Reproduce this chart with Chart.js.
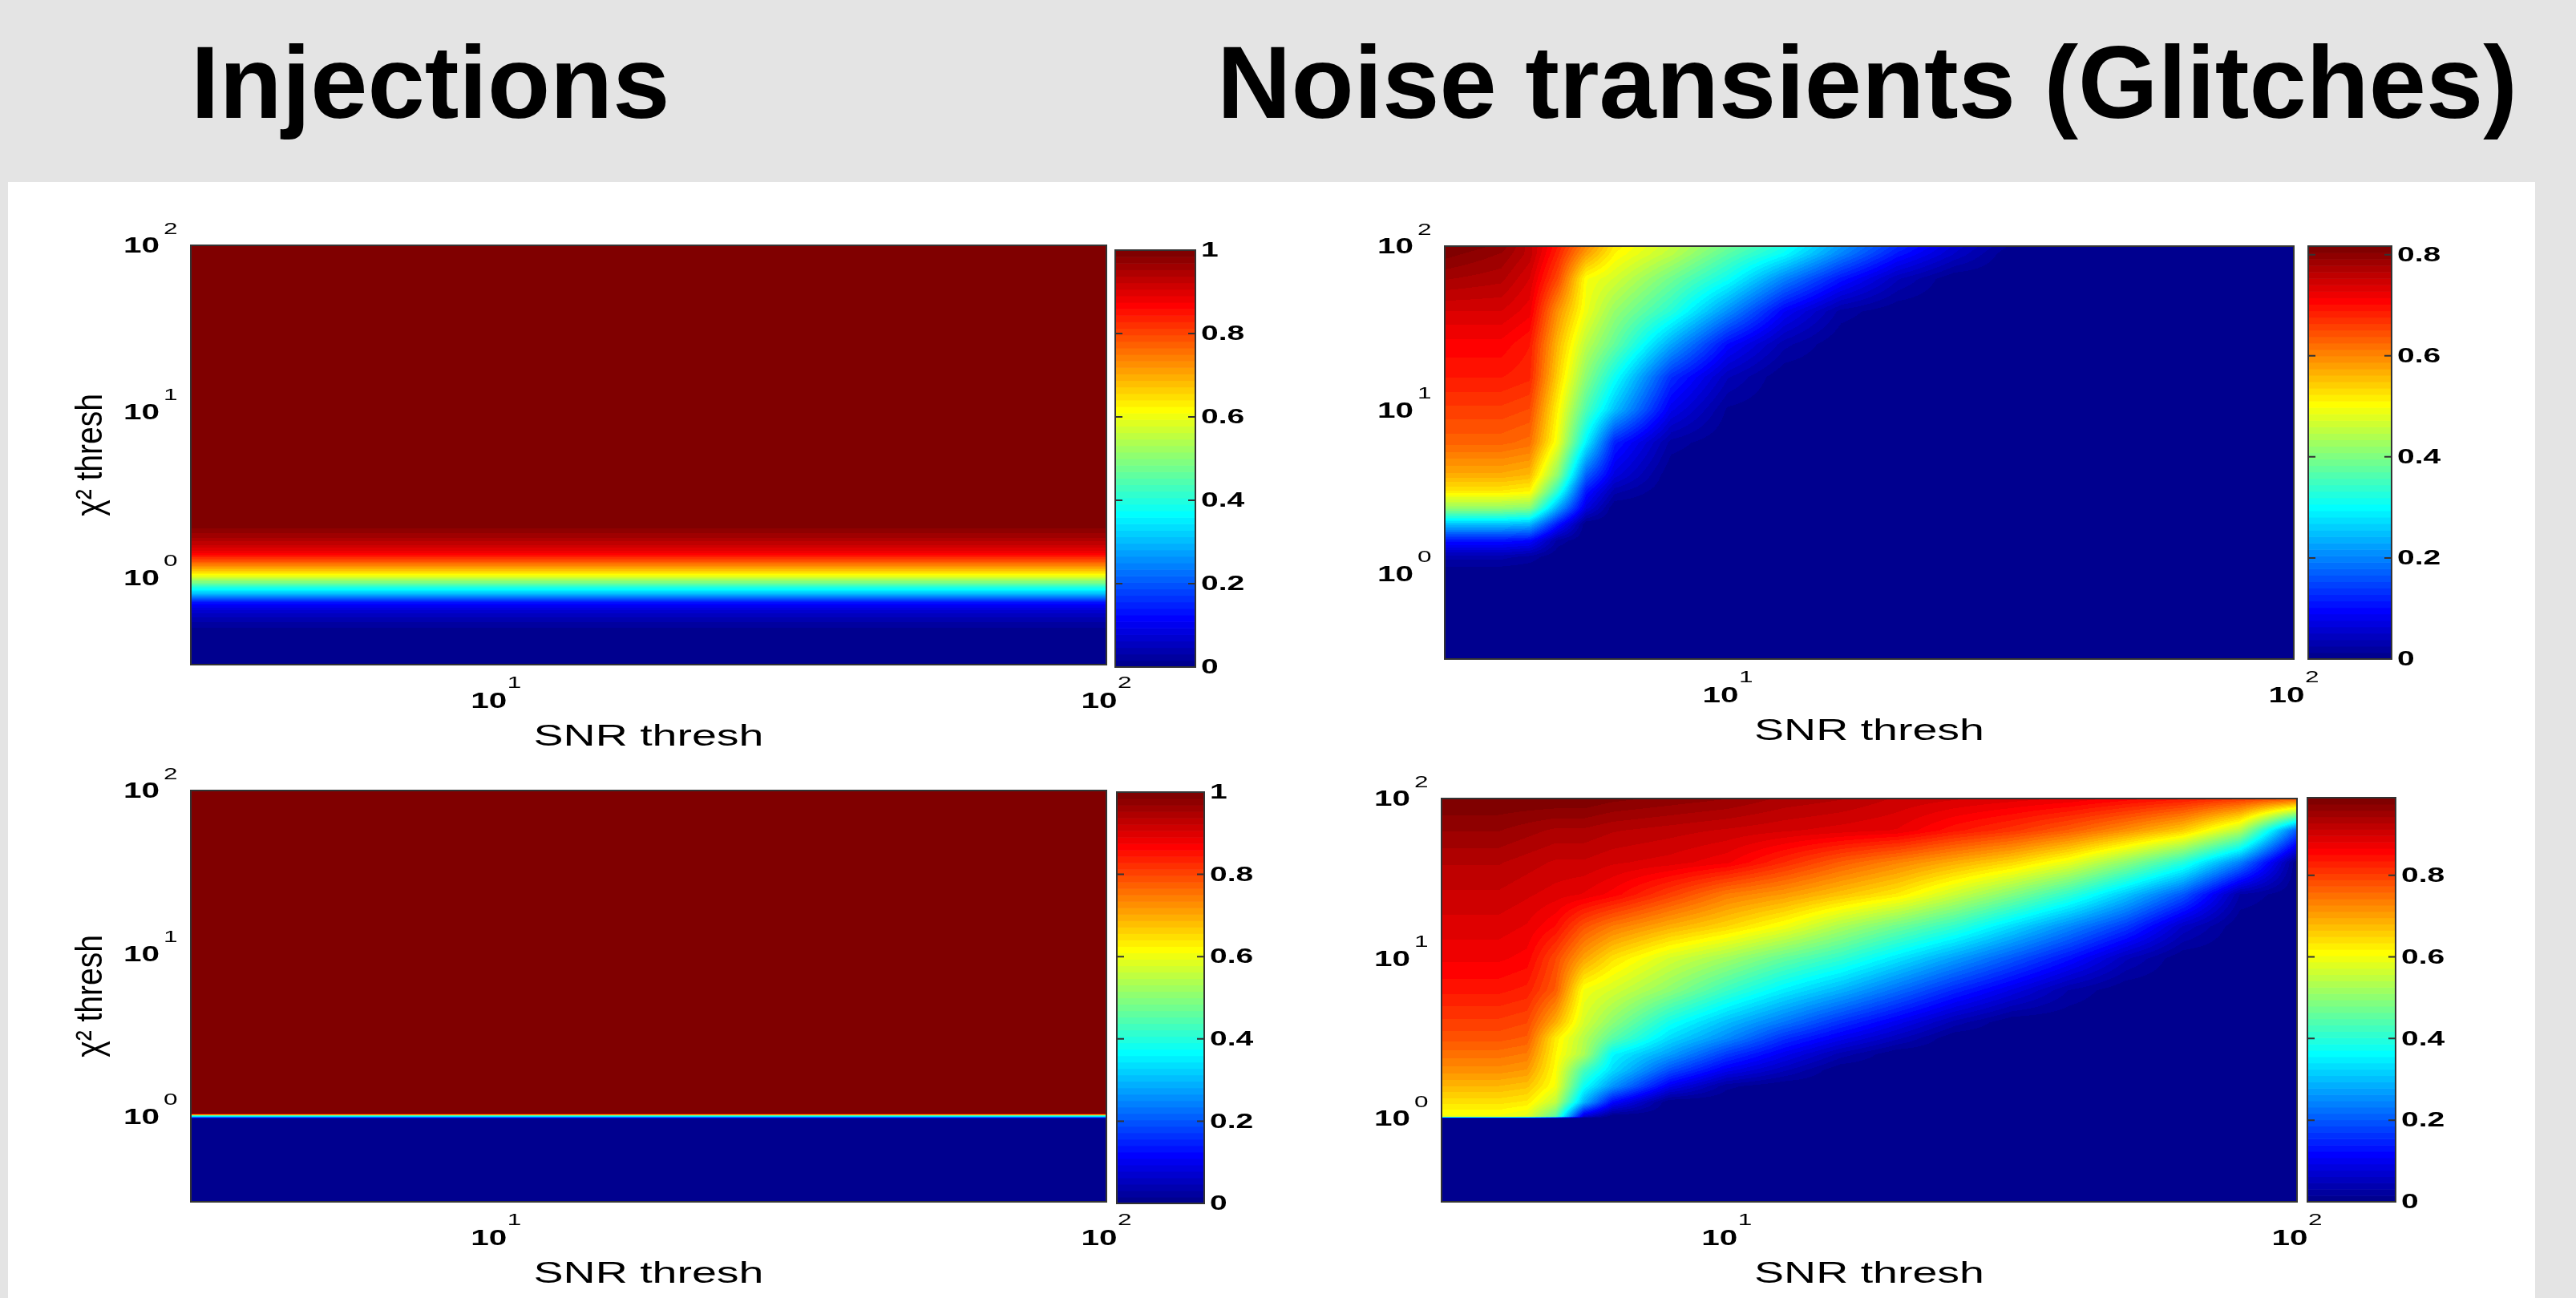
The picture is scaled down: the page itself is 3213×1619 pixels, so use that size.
<!DOCTYPE html>
<html>
<head>
<meta charset="utf-8">
<script src="https://cdn.jsdelivr.net/npm/chart.js@4.4.0/dist/chart.umd.min.js"></script>
<style>
  html, body { margin: 0; padding: 0; }
  body { width: 3213px; height: 1619px; background: #e4e4e4; position: relative; overflow: hidden;
         font-family: "Liberation Sans", Arial, Helvetica, sans-serif; }
  #sheet { position: absolute; left: 10px; top: 227px; width: 3152px; height: 1392px; background: #fff; }
  .title { position: absolute; top: 39px; font-weight: bold; font-size: 128px; line-height: 128px;
           color: #000; white-space: nowrap; }
  canvas { position: absolute; }
</style>
</head>
<body>
<div id="sheet"></div>
<div class="title" style="left:238px">Injections</div>
<div class="title" style="left:1518px">Noise transients (Glitches)</div>

<script>
// axes: log10 ranges and tick values
const snrLogRange = [0.5, 2];
const chiLogRange = [-0.5, 2];
const snrTicks = [10, 100];
const chiTicks = [1, 10, 100];
const cbTicksInj = [0, 0.2, 0.4, 0.6, 0.8, 1];
const cbTicksGlitch = [0, 0.2, 0.4, 0.6, 0.8];

// colour limits of each panel
const injTopMax = 1;
const injBotMax = 1;
const glitchTopMax = 0.817;
const glitchBotMax = 0.99;

// Injections, top: efficiency only depends on chi2 threshold
const injTopChiLog = [2.0, 0.35, 0.3, 0.25, 0.2, 0.15, 0.1, 0.05, 0.0, -0.05, -0.1, -0.15, -0.2, -0.25, -0.3, -0.35, -0.5];
const injTopEff    = [1, 1, 0.985, 0.96, 0.925, 0.88, 0.79, 0.69, 0.57, 0.42, 0.29, 0.13, 0.07, 0.04, 0.015, 0, 0];

// Injections, bottom: sharp step at chi2 = 1
const injBotChiLog = [2.0, 0.02, 0.014, 0.01, 0.006, 0.001, -0.004, -0.009, -0.014, -0.5];
const injBotEff    = [1, 1, 0.88, 0.65, 0.45, 0.35, 0.25, 0.1, 0, 0];

// Glitches, top (rows = log10 chi2, cols = log10 SNR)
const glitchTopSnrLog = [0.5, 0.6, 0.65, 0.7, 0.75, 0.8, 0.9, 1.0, 1.1, 1.2, 1.3, 1.4, 1.5, 1.6, 1.7, 1.8, 2.0];
const glitchTopChiLog = [2.0, 1.95, 1.8, 1.6, 1.4, 1.2, 1.0, 0.8, 0.6, 0.5, 0.4, 0.3, 0.2, 0.1, 0.0, -0.5];
const glitchTopFrac = [
  [0.82,0.80,0.76,0.69,0.60,0.52,0.46,0.39,0.32,0.22,0.13,0.06,0.01,0,0,0,0],
  [0.81,0.79,0.76,0.68,0.58,0.51,0.45,0.37,0.30,0.20,0.11,0.05,0,0,0,0,0],
  [0.78,0.77,0.74,0.65,0.50,0.47,0.39,0.31,0.20,0.11,0.04,0,0,0,0,0,0],
  [0.74,0.74,0.72,0.59,0.49,0.42,0.33,0.21,0.09,0.02,0,0,0,0,0,0,0],
  [0.71,0.71,0.69,0.56,0.45,0.38,0.23,0.10,0.03,0,0,0,0,0,0,0,0],
  [0.69,0.69,0.68,0.54,0.41,0.31,0.13,0.04,0,0,0,0,0,0,0,0,0],
  [0.66,0.66,0.65,0.51,0.36,0.25,0.08,0.01,0,0,0,0,0,0,0,0,0],
  [0.63,0.63,0.62,0.49,0.29,0.12,0.02,0,0,0,0,0,0,0,0,0,0],
  [0.57,0.57,0.56,0.41,0.17,0.07,0,0,0,0,0,0,0,0,0,0,0],
  [0.52,0.52,0.51,0.33,0.11,0.03,0,0,0,0,0,0,0,0,0,0,0],
  [0.42,0.42,0.41,0.23,0.07,0,0,0,0,0,0,0,0,0,0,0,0],
  [0.25,0.25,0.24,0.11,0,0,0,0,0,0,0,0,0,0,0,0,0],
  [0.11,0.11,0.10,0.02,0,0,0,0,0,0,0,0,0,0,0,0,0],
  [0.03,0.03,0.02,0,0,0,0,0,0,0,0,0,0,0,0,0,0],
  [0,0,0,0,0,0,0,0,0,0,0,0,0,0,0,0,0],
  [0,0,0,0,0,0,0,0,0,0,0,0,0,0,0,0,0]
];

// Glitches, bottom
const glitchBotSnrLog = [0.5, 0.6, 0.65, 0.7, 0.75, 0.8, 0.9, 1.0, 1.1, 1.2, 1.3, 1.4, 1.5, 1.6, 1.7, 1.8, 1.9, 2.0];
const glitchBotChiLog = [2.0, 1.8, 1.6, 1.4, 1.2, 1.0, 0.8, 0.6, 0.5, 0.4, 0.3, 0.2, 0.1, 0.01, 0.0, -0.5];
const glitchBotFrac = [
  [0.99,0.99,0.99,0.99,0.99,0.98,0.97,0.96,0.94,0.93,0.91,0.90,0.89,0.88,0.86,0.84,0.81,0.78],
  [0.96,0.96,0.95,0.94,0.94,0.93,0.92,0.91,0.90,0.89,0.88,0.84,0.81,0.77,0.72,0.66,0.54,0.20],
  [0.93,0.93,0.92,0.91,0.91,0.90,0.89,0.87,0.82,0.77,0.73,0.69,0.65,0.59,0.50,0.40,0.24,0],
  [0.91,0.91,0.90,0.89,0.88,0.86,0.80,0.74,0.71,0.67,0.63,0.56,0.49,0.41,0.31,0.20,0.03,0],
  [0.89,0.89,0.88,0.85,0.78,0.74,0.69,0.65,0.60,0.53,0.47,0.41,0.33,0.25,0.17,0.06,0,0],
  [0.87,0.87,0.86,0.79,0.70,0.64,0.57,0.52,0.46,0.41,0.34,0.27,0.20,0.13,0.05,0,0,0],
  [0.84,0.84,0.83,0.77,0.60,0.57,0.50,0.42,0.35,0.29,0.22,0.15,0.09,0.03,0,0,0,0],
  [0.80,0.80,0.79,0.69,0.57,0.50,0.38,0.30,0.23,0.16,0.10,0.04,0,0,0,0,0,0],
  [0.78,0.78,0.77,0.63,0.54,0.45,0.33,0.25,0.16,0.10,0.05,0,0,0,0,0,0,0],
  [0.75,0.75,0.74,0.62,0.53,0.36,0.27,0.17,0.10,0.04,0,0,0,0,0,0,0,0],
  [0.72,0.72,0.71,0.61,0.43,0.33,0.19,0.10,0.05,0,0,0,0,0,0,0,0,0],
  [0.68,0.68,0.67,0.60,0.37,0.26,0.10,0.02,0,0,0,0,0,0,0,0,0,0],
  [0.64,0.64,0.63,0.55,0.29,0.12,0,0,0,0,0,0,0,0,0,0,0,0],
  [0.60,0.60,0.58,0.45,0.07,0,0,0,0,0,0,0,0,0,0,0,0,0],
  [0,0,0,0,0,0,0,0,0,0,0,0,0,0,0,0,0,0],
  [0,0,0,0,0,0,0,0,0,0,0,0,0,0,0,0,0,0]
];

const FONT = '"Liberation Sans", Arial, Helvetica, sans-serif';
const WIDE = 1.5; // the small labels of the original figure are stretched sideways

// MATLAB jet(64)
const JET = [];
(function () {
  const u = j => j < 1 ? 0 : j <= 16 ? j / 16 : j <= 31 ? 1 : j <= 47 ? (48 - j) / 16 : 0;
  for (let i = 1; i <= 64; i++) {
    JET.push([u(i - 24), u(i - 8), u(i + 8)].map(c => Math.round(c * 255)));
  }
})();

function jetIndex(f) {
  return Math.min(63, Math.max(0, Math.floor(f * 64)));
}

// find segment of a monotonic array that holds v
function locate(arr, v) {
  for (let k = 0; k < arr.length - 1; k++) {
    const a = arr[k], b = arr[k + 1];
    if ((v - a) * (v - b) <= 0) return [k, a === b ? 0 : (v - a) / (b - a)];
  }
  const first = Math.abs(v - arr[0]) < Math.abs(v - arr[arr.length - 1]);
  return first ? [0, 0] : [arr.length - 2, 1];
}

function wideText(ctx, text, x, y, align, font) {
  ctx.save();
  ctx.font = font;
  ctx.textAlign = align;
  ctx.translate(x, y);
  ctx.scale(WIDE, 1);
  ctx.fillText(text, 0, 0);
  ctx.restore();
}

function drawPow(ctx, px, py, exp, mode) {
  ctx.fillStyle = '#000';
  ctx.textBaseline = 'middle';
  const big = 'bold 27px ' + FONT, small = '21px ' + FONT;
  if (mode === 'x') {
    wideText(ctx, '10', px - 9, py + 47, 'center', big);
    wideText(ctx, String(exp), px + 14, py + 23, 'left', small);
  } else {
    wideText(ctx, '10', px - 39, py + 2, 'right', big);
    wideText(ctx, String(exp), px - 34, py - 20, 'left', small);
  }
}

function heatmapLayer(spec) {
  return {
    id: 'heatmap',
    beforeDatasetsDraw(chart) {
      const { ctx, chartArea: a, scales: { x, y } } = chart;
      const w = Math.round(a.right - a.left), h = Math.round(a.bottom - a.top);
      const img = ctx.createImageData(w, h);
      const cols = [], rows = [];
      for (let i = 0; i < w; i++) cols.push(locate(spec.snrLog, Math.log10(x.getValueForPixel(a.left + i + 0.5))));
      for (let j = 0; j < h; j++) rows.push(locate(spec.chiLog, Math.log10(y.getValueForPixel(a.top + j + 0.5))));
      for (let j = 0; j < h; j++) {
        const [r, tr] = rows[j];
        const g0 = spec.grid[r], g1 = spec.grid[r + 1];
        for (let i = 0; i < w; i++) {
          const [c, tc] = cols[i];
          const top = g0[c] + (g0[c + 1] - g0[c]) * tc;
          const bot = g1[c] + (g1[c + 1] - g1[c]) * tc;
          const v = top + (bot - top) * tr;
          const col = JET[jetIndex(v / spec.cmax)];
          const p = (j * w + i) * 4;
          img.data[p] = col[0];
          img.data[p + 1] = col[1];
          img.data[p + 2] = col[2];
          img.data[p + 3] = 255;
        }
      }
      ctx.putImageData(img, Math.round(a.left), Math.round(a.top));
    },
    afterDraw(chart) {
      const { ctx, chartArea: a, scales: { x, y } } = chart;
      ctx.save();
      ctx.strokeStyle = '#333';
      ctx.lineWidth = 2;
      ctx.strokeRect(a.left, a.top, a.right - a.left, a.bottom - a.top);

      snrTicks.forEach(t => drawPow(ctx, x.getPixelForValue(t), a.bottom, Math.round(Math.log10(t)), 'x'));
      chiTicks.forEach(t => drawPow(ctx, a.left, y.getPixelForValue(t), Math.round(Math.log10(t)), 'y'));

      ctx.fillStyle = '#000';
      ctx.textBaseline = 'alphabetic';
      wideText(ctx, 'SNR thresh', (a.left + a.right) / 2, a.bottom + 101, 'center', '37px ' + FONT);

      if (spec.yLabel) {
        ctx.font = '39px ' + FONT;
        ctx.textAlign = 'center';
        ctx.translate(a.left - 124, (a.top + a.bottom) / 2);
        ctx.rotate(-Math.PI / 2);
        ctx.scale(1, 1.2);
        ctx.textBaseline = 'middle';
        ctx.fillText('χ² thresh', 0, 0);
      }
      ctx.restore();
    }
  };
}

function colorbarLayer(spec) {
  return {
    id: 'colorbar',
    beforeDatasetsDraw(chart) {
      const { ctx, chartArea: a, scales: { y } } = chart;
      for (let k = 0; k < 64; k++) {
        const y0 = y.getPixelForValue(spec.cmax * k / 64);
        const y1 = y.getPixelForValue(spec.cmax * (k + 1) / 64);
        const c = JET[k];
        ctx.fillStyle = `rgb(${c[0]},${c[1]},${c[2]})`;
        ctx.fillRect(a.left, y1, a.right - a.left, y0 - y1 + 0.6);
      }
    },
    afterDraw(chart) {
      const { ctx, chartArea: a, scales: { y } } = chart;
      ctx.save();
      ctx.strokeStyle = '#333';
      ctx.lineWidth = 2;
      ctx.strokeRect(a.left, a.top, a.right - a.left, a.bottom - a.top);
      ctx.fillStyle = '#000';
      ctx.textBaseline = 'middle';
      spec.ticks.forEach(t => {
        const py = y.getPixelForValue(t);
        ctx.beginPath();
        ctx.moveTo(a.left, py); ctx.lineTo(a.left + 9, py);
        ctx.moveTo(a.right, py); ctx.lineTo(a.right - 9, py);
        ctx.stroke();
        wideText(ctx, String(t), a.right + 7, py + 1, 'left', 'bold 26px ' + FONT);
      });
      ctx.restore();
    }
  };
}

function addChart(rect, pad, layer, xScale, yScale) {
  const c = document.createElement('canvas');
  const W = rect.r - rect.l + pad.l + pad.r;
  const H = rect.b - rect.t + pad.t + pad.b;
  c.width = W; c.height = H;
  c.style.left = (rect.l - pad.l) + 'px';
  c.style.top = (rect.t - pad.t) + 'px';
  c.style.width = W + 'px';
  c.style.height = H + 'px';
  document.body.appendChild(c);
  return new Chart(c, {
    type: 'scatter',
    data: { datasets: [] },
    options: {
      responsive: false,
      animation: false,
      devicePixelRatio: 1,
      layout: { padding: { left: pad.l, right: pad.r, top: pad.t, bottom: pad.b } },
      plugins: { legend: { display: false }, tooltip: { enabled: false } },
      scales: { x: xScale, y: yScale }
    },
    plugins: [layer]
  });
}

const logX = { type: 'logarithmic', display: false, min: 10 ** snrLogRange[0], max: 10 ** snrLogRange[1] };
const logY = { type: 'logarithmic', display: false, min: 10 ** chiLogRange[0], max: 10 ** chiLogRange[1] };
const heatPad = { l: 200, r: 50, t: 40, b: 120 };
const barPad = { l: 4, r: 100, t: 20, b: 20 };
const barX = { type: 'linear', display: false, min: 0, max: 1 };

const panels = [
  { heat: { l: 238, t: 306, r: 1380, b: 829 }, bar: { l: 1391, t: 312, r: 1491, b: 832 },
    snrLog: snrLogRange, chiLog: injTopChiLog, grid: injTopEff.map(v => [v, v]),
    cmax: injTopMax, ticks: cbTicksInj, yLabel: true },
  { heat: { l: 1802, t: 307, r: 2861, b: 822 }, bar: { l: 2879, t: 307, r: 2983, b: 822 },
    snrLog: glitchTopSnrLog, chiLog: glitchTopChiLog, grid: glitchTopFrac,
    cmax: glitchTopMax, ticks: cbTicksGlitch, yLabel: false },
  { heat: { l: 238, t: 986, r: 1380, b: 1499 }, bar: { l: 1393, t: 988, r: 1502, b: 1501 },
    snrLog: snrLogRange, chiLog: injBotChiLog, grid: injBotEff.map(v => [v, v]),
    cmax: injBotMax, ticks: cbTicksInj, yLabel: true },
  { heat: { l: 1798, t: 996, r: 2865, b: 1499 }, bar: { l: 2878, t: 995, r: 2988, b: 1499 },
    snrLog: glitchBotSnrLog, chiLog: glitchBotChiLog, grid: glitchBotFrac,
    cmax: glitchBotMax, ticks: cbTicksGlitch, yLabel: false }
];

panels.forEach(p => {
  addChart(p.heat, heatPad, heatmapLayer(p), logX, logY);
  addChart(p.bar, barPad, colorbarLayer(p), barX,
    { type: 'linear', display: false, min: 0, max: p.cmax });
});
</script>
</body>
</html>
